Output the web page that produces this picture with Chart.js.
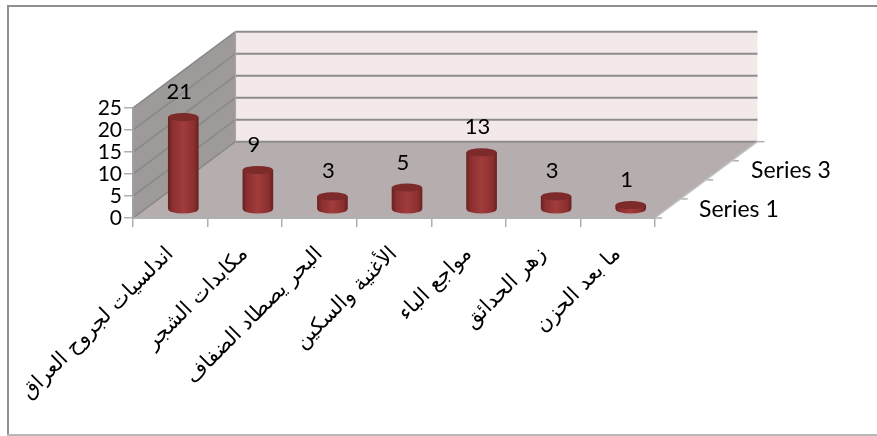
<!DOCTYPE html>
<html><head><meta charset="utf-8">
<style>html,body{margin:0;padding:0;background:#fff}canvas{display:block}</style>
<script src="https://cdn.jsdelivr.net/npm/chart.js@4"></script>
</head><body>
<div style="position:relative;width:877px;height:436px"><canvas id="c" width="877" height="436"></canvas></div>
<script>
const categories = ["اندلسيات لجروح العراق","مكابدات الشجر","البحر يصطاد الضفاف","الأغنية والسكين","مواجع الباء","زهر الحدائق","ما بعد الحزن"];
const seriesValues = [21,9,3,5,13,3,1];
const seriesName = "Series 1";
const depthLabels = ["Series 1","Series 3"];
const yTicks = [0,5,10,15,20,25];

const DEPTH = {dx:102.5, dy:-76.3};
const BAR_SHIFT = {dx:13, dy:-8.5};
const latin = '"Lato","Open Sans",sans-serif';

function poly(ctx, pts, fill){
  ctx.beginPath(); pts.forEach((p,i)=> i?ctx.lineTo(p[0],p[1]):ctx.moveTo(p[0],p[1]));
  ctx.closePath(); ctx.fillStyle=fill; ctx.fill();
}
function line(ctx,x1,y1,x2,y2,col,w){
  ctx.beginPath();ctx.moveTo(x1,y1);ctx.lineTo(x2,y2);ctx.strokeStyle=col;ctx.lineWidth=w;ctx.stroke();
}
function barGrad(ctx,x0,x1,a,b,c){
  const g=ctx.createLinearGradient(x0,0,x1,0);
  g.addColorStop(0,a);g.addColorStop(.14,b);g.addColorStop(.5,c);g.addColorStop(.86,b);g.addColorStop(1,a);
  return g;
}
const scene = {
  id:'scene',
  beforeDraw(chart){
    const {ctx,chartArea:a,scales:{y}}=chart;
    ctx.save();
    line(ctx,7,6,877,6,'#8f8f8f',2);
    line(ctx,8,5,8,435,'#8f8f8f',2);
    line(ctx,7,435,877,435,'#b8b8b8',2);
    const b=a.bottom,t=a.top,l=a.left,r=a.right,{dx,dy}=DEPTH;
    poly(ctx,[[l,b],[l+dx,b+dy],[l+dx,t+dy],[l,t]],'#9e9a9a');
    poly(ctx,[[l+dx,b+dy],[r+dx,b+dy],[r+dx,t+dy],[l+dx,t+dy]],'#f4e9e9');
    poly(ctx,[[l,b],[r,b],[r+dx,b+dy],[l+dx,b+dy]],'#b6aeae');
    yTicks.forEach(v=>{
      const p=y.getPixelForValue(v);
      line(ctx,l,p,l+dx,p+dy,'#8a8a8a',1.6);
      line(ctx,l+dx,p+dy,r+dx,p+dy,'#8c8c8c',2);
    });
    line(ctx,l+dx,t+dy,l+dx,b+dy,'#a8a8a8',1.2);
    const n=4;
    for(let i=0;i<=n;i++){
      const f=i/n, x=r+dx*f, yy=b+dy*f;
      line(ctx,x,yy,x+7,yy,'#b0b0b0',1.5);
    }
    line(ctx,r,b,r+dx,b+dy,'#c4c4c4',1.5);
    ctx.fillStyle='#000';ctx.font='23px '+latin;ctx.textAlign='left';ctx.textBaseline='middle';
    ctx.fillText(depthLabels[0],699,210);
    ctx.fillText(depthLabels[1],751,171);
    ctx.restore();
  },
  beforeDatasetsDraw(chart){
    const ctx=chart.ctx; ctx.save(); ctx.translate(BAR_SHIFT.dx,BAR_SHIFT.dy);
    chart.getDatasetMeta(0).data.forEach(bar=>{
      const w=bar.width, ry=4;
      const base=chart.scales.y.getPixelForValue(0);
      ctx.beginPath();ctx.ellipse(bar.x,base,w/2,ry,0,0,Math.PI*2);
      ctx.fillStyle=barGrad(ctx,bar.x-w/2,bar.x+w/2,'#6a2222','#8c2f2f','#a03c3c');ctx.fill();
    });
    ctx.restore();
    ctx.save(); ctx.translate(BAR_SHIFT.dx,BAR_SHIFT.dy);
  },
  afterDatasetsDraw(chart){
    const ctx=chart.ctx;
    chart.getDatasetMeta(0).data.forEach(bar=>{
      const w=bar.width, ry=4;
      ctx.beginPath();ctx.ellipse(bar.x,bar.y,w/2,ry,0,0,Math.PI*2);
      ctx.fillStyle='#7d2a2a';ctx.fill();
    });
    ctx.restore();
    ctx.save();
    ctx.fillStyle='#000';ctx.font='22px '+latin;ctx.textAlign='center';ctx.textBaseline='middle';
    chart.getDatasetMeta(0).data.forEach((bar,i)=>{
      ctx.fillText(String(seriesValues[i]),bar.x+BAR_SHIFT.dx-4,bar.y+BAR_SHIFT.dy-25);
    });
    ctx.restore();
  }
};
new Chart(document.getElementById('c'),{
  type:'bar',
  data:{labels:categories,datasets:[{label:seriesName,data:seriesValues,barThickness:30,
    backgroundColor(c){
      const a=c.chart.ctx, x=c.chart.scales.x?c.chart.scales.x.getPixelForValue(c.dataIndex):NaN;
      if(!Number.isFinite(x)) return '#8c2f2f';
      return barGrad(a,x-15,x+15,'#6a2222','#8c2f2f','#a03c3c');
    }}]},
  options:{
    responsive:false,animation:false,events:[],
    layout:{padding:{left:0,top:108,right:222,bottom:0}},
    plugins:{legend:{display:false},title:{display:false},tooltip:{enabled:false}},
    scales:{
      x:{
        afterFit(s){s.height=218;},
        grid:{display:true,drawOnChartArea:false,drawTicks:true,tickLength:9,color:'#b0b0b0',lineWidth:1.5},
        border:{display:true,color:'#b0b0b0',width:2},
        ticks:{autoSkip:false,minRotation:45,maxRotation:45,padding:15,color:'#000',
          font:{family:'"DejaVu Sans"',size:21}}
      },
      y:{
        min:0,max:25,
        afterFit(s){s.width=133;},
        grid:{display:true,drawOnChartArea:false,drawTicks:true,tickLength:9,color:'#b0b0b0',lineWidth:1.5},
        border:{display:true,color:'#a0a0a0',width:2},
        ticks:{stepSize:5,autoSkip:false,padding:2,color:'#000',font:{family:latin,size:21}}
      }
    }
  },
  plugins:[scene]
});
</script></body></html>
